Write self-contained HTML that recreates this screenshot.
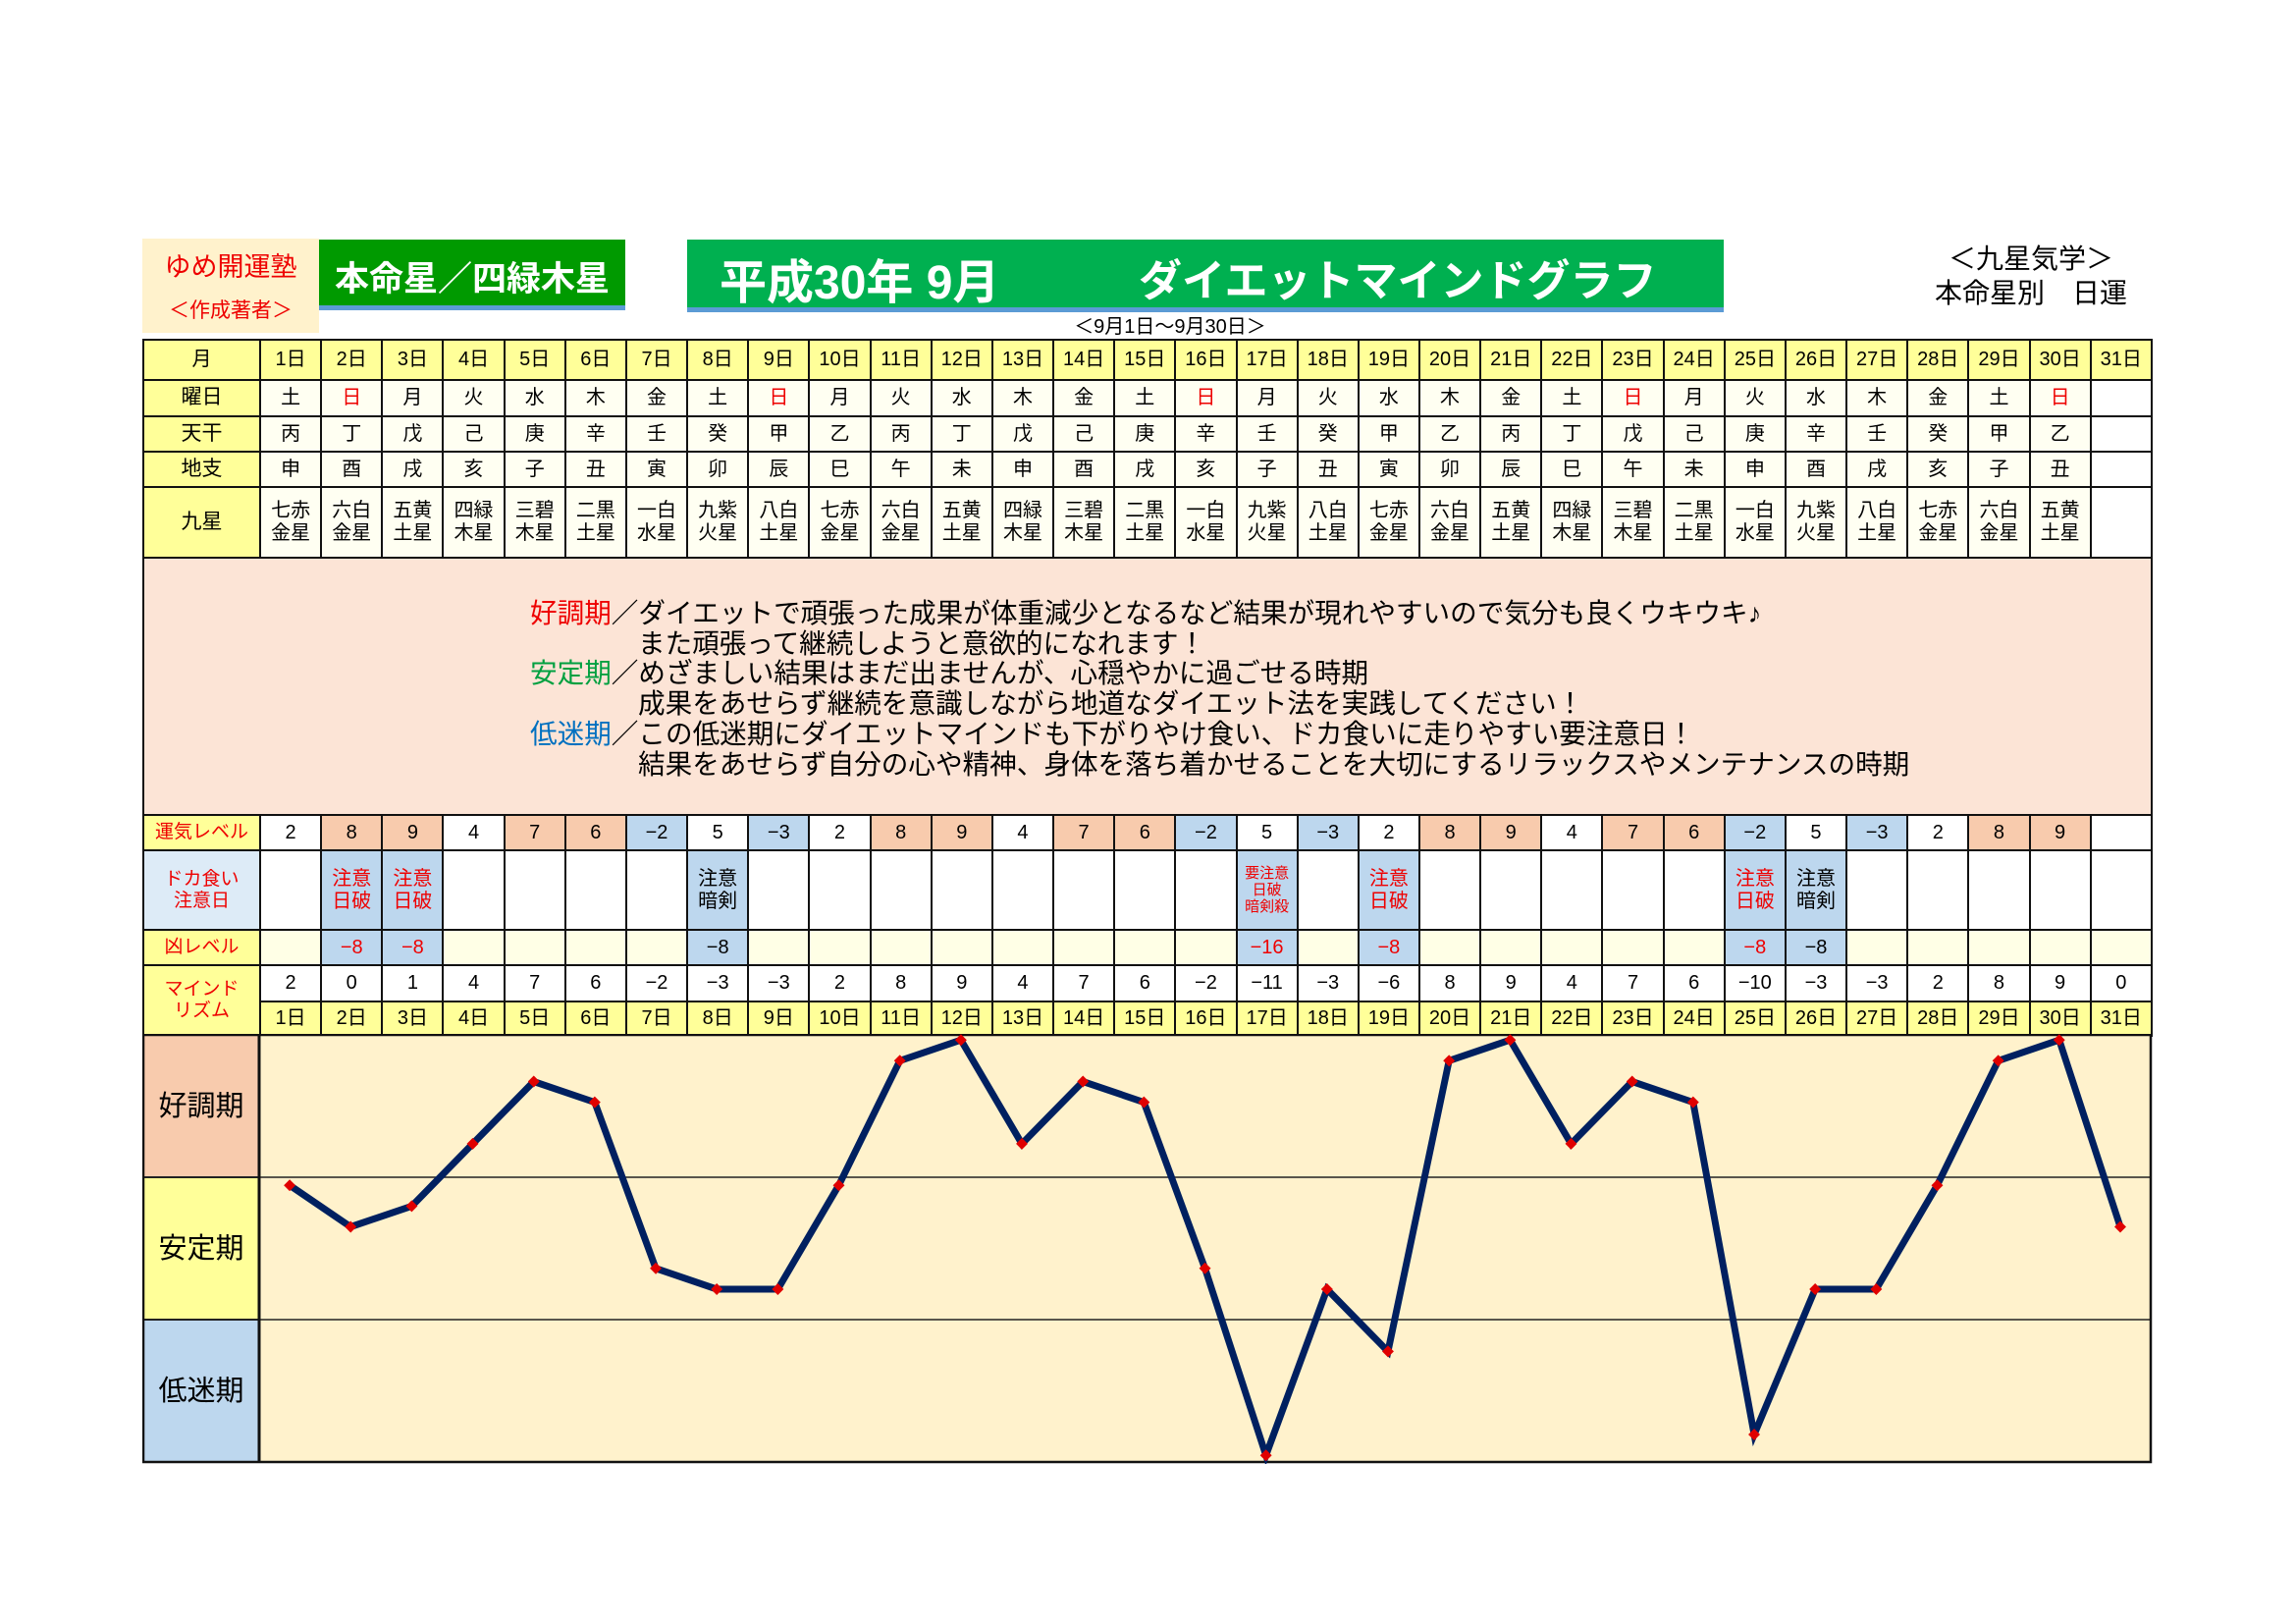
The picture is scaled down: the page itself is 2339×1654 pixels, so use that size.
<!DOCTYPE html>
<html><head><meta charset="utf-8"><style>
*{margin:0;padding:0;box-sizing:border-box}
body{width:2339px;height:1654px;background:#fff;position:relative;overflow:hidden;font-family:"Liberation Sans","Noto Sans CJK JP",sans-serif;color:#000}
.a{position:absolute;white-space:nowrap}
table{position:absolute;left:145px;top:345px;width:2046px;border-collapse:collapse;table-layout:fixed}
td{border:2px solid #111;text-align:center;vertical-align:middle;font-size:20px;line-height:1.15;background:#fffff2;overflow:hidden}
td.l{background:#ffff99;font-size:21px}
tr.h td{background:#ffff99;font-size:20px}
.r{color:#e00}
.b{background:#bdd7ee!important}
.s{background:#f8cbad!important}
.w td{background:#fff}
.k td{background:#ffffe6}
</style></head><body>
<div class="a" style="left:145px;top:243px;width:180px;height:96px;background:#fff2cc"></div>
<div class="a r" style="left:145px;top:250px;width:180px;text-align:center;font-size:27px">ゆめ開運塾</div>
<div class="a r" style="left:145px;top:300px;width:180px;text-align:center;font-size:21px">＜作成著者＞</div>
<div class="a" style="left:325px;top:244px;width:312px;height:72px;background:#009a00;border-bottom:5px solid #5b9bd5"></div>
<div class="a" style="left:325px;top:256px;width:312px;text-align:center;font-size:35px;font-weight:bold;color:#fff">本命星／四緑木星</div>
<div class="a" style="left:700px;top:244px;width:1056px;height:74px;background:#00b050;border-bottom:5px solid #5b9bd5"></div>
<div class="a" style="left:733px;top:248px;font-size:48px;font-weight:bold;color:#fff">平成30年 9月</div>
<div class="a" style="left:1160px;top:250px;font-size:44px;font-weight:bold;color:#fff">ダイエットマインドグラフ</div>
<div class="a" style="left:1942px;top:242px;width:254px;text-align:center;font-size:28px">＜九星気学＞</div>
<div class="a" style="left:1942px;top:277px;width:254px;text-align:center;font-size:28px">本命星別　日運</div>
<div class="a" style="left:1042px;top:316px;width:300px;text-align:center;font-size:20px">＜9月1日～9月30日＞</div>
<table>
<colgroup><col style="width:119px"><col span="31" style="width:62.16px"></colgroup>
<tr class="h" style="height:41px"><td>月</td><td>1日</td><td>2日</td><td>3日</td><td>4日</td><td>5日</td><td>6日</td><td>7日</td><td>8日</td><td>9日</td><td>10日</td><td>11日</td><td>12日</td><td>13日</td><td>14日</td><td>15日</td><td>16日</td><td>17日</td><td>18日</td><td>19日</td><td>20日</td><td>21日</td><td>22日</td><td>23日</td><td>24日</td><td>25日</td><td>26日</td><td>27日</td><td>28日</td><td>29日</td><td>30日</td><td>31日</td></tr>
<tr style="height:37px"><td class="l">曜日</td><td>土</td><td class="r">日</td><td>月</td><td>火</td><td>水</td><td>木</td><td>金</td><td>土</td><td class="r">日</td><td>月</td><td>火</td><td>水</td><td>木</td><td>金</td><td>土</td><td class="r">日</td><td>月</td><td>火</td><td>水</td><td>木</td><td>金</td><td>土</td><td class="r">日</td><td>月</td><td>火</td><td>水</td><td>木</td><td>金</td><td>土</td><td class="r">日</td><td style="background:#fff"></td></tr>
<tr style="height:36px"><td class="l">天干</td><td>丙</td><td>丁</td><td>戊</td><td>己</td><td>庚</td><td>辛</td><td>壬</td><td>癸</td><td>甲</td><td>乙</td><td>丙</td><td>丁</td><td>戊</td><td>己</td><td>庚</td><td>辛</td><td>壬</td><td>癸</td><td>甲</td><td>乙</td><td>丙</td><td>丁</td><td>戊</td><td>己</td><td>庚</td><td>辛</td><td>壬</td><td>癸</td><td>甲</td><td>乙</td><td style="background:#fff"></td></tr>
<tr style="height:36px"><td class="l">地支</td><td>申</td><td>酉</td><td>戌</td><td>亥</td><td>子</td><td>丑</td><td>寅</td><td>卯</td><td>辰</td><td>巳</td><td>午</td><td>未</td><td>申</td><td>酉</td><td>戌</td><td>亥</td><td>子</td><td>丑</td><td>寅</td><td>卯</td><td>辰</td><td>巳</td><td>午</td><td>未</td><td>申</td><td>酉</td><td>戌</td><td>亥</td><td>子</td><td>丑</td><td style="background:#fff"></td></tr>
<tr style="height:72px"><td class="l">九星</td><td>七赤<br>金星</td><td>六白<br>金星</td><td>五黄<br>土星</td><td>四緑<br>木星</td><td>三碧<br>木星</td><td>二黒<br>土星</td><td>一白<br>水星</td><td>九紫<br>火星</td><td>八白<br>土星</td><td>七赤<br>金星</td><td>六白<br>金星</td><td>五黄<br>土星</td><td>四緑<br>木星</td><td>三碧<br>木星</td><td>二黒<br>土星</td><td>一白<br>水星</td><td>九紫<br>火星</td><td>八白<br>土星</td><td>七赤<br>金星</td><td>六白<br>金星</td><td>五黄<br>土星</td><td>四緑<br>木星</td><td>三碧<br>木星</td><td>二黒<br>土星</td><td>一白<br>水星</td><td>九紫<br>火星</td><td>八白<br>土星</td><td>七赤<br>金星</td><td>六白<br>金星</td><td>五黄<br>土星</td><td style="background:#fff"></td></tr>
<tr style="height:262px"><td colspan="32" style="background:#fce4d6"></td></tr>
<tr class="w" style="height:36px"><td class="l r" style="background:#ffff99;font-size:19px">運気レベル</td><td>2</td><td class="s">8</td><td class="s">9</td><td>4</td><td class="s">7</td><td class="s">6</td><td class="b">−2</td><td>5</td><td class="b">−3</td><td>2</td><td class="s">8</td><td class="s">9</td><td>4</td><td class="s">7</td><td class="s">6</td><td class="b">−2</td><td>5</td><td class="b">−3</td><td>2</td><td class="s">8</td><td class="s">9</td><td>4</td><td class="s">7</td><td class="s">6</td><td class="b">−2</td><td>5</td><td class="b">−3</td><td>2</td><td class="s">8</td><td class="s">9</td><td></td></tr>
<tr class="w" style="height:81px"><td class="r" style="background:#ddebf7;font-size:19px">ドカ食い<br>注意日</td><td></td><td class="b r">注意<br>日破</td><td class="b r">注意<br>日破</td><td></td><td></td><td></td><td></td><td class="b">注意<br>暗剣</td><td></td><td></td><td></td><td></td><td></td><td></td><td></td><td></td><td class="b r" style="font-size:15px">要注意<br>日破<br>暗剣殺</td><td></td><td class="b r">注意<br>日破</td><td></td><td></td><td></td><td></td><td></td><td class="b r">注意<br>日破</td><td class="b">注意<br>暗剣</td><td></td><td></td><td></td><td></td><td></td></tr>
<tr class="k" style="height:36px"><td class="l r" style="background:#ffff99;font-size:19px">凶レベル</td><td></td><td class="b r">−8</td><td class="b r">−8</td><td></td><td></td><td></td><td></td><td class="b">−8</td><td></td><td></td><td></td><td></td><td></td><td></td><td></td><td></td><td class="b r">−16</td><td></td><td class="b r">−8</td><td></td><td></td><td></td><td></td><td></td><td class="b r">−8</td><td class="b">−8</td><td></td><td></td><td></td><td></td><td></td></tr>
<tr class="w" style="height:37px"><td class="l r" rowspan="2" style="background:#ffff99;font-size:19px">マインド<br>リズム</td><td>2</td><td>0</td><td>1</td><td>4</td><td>7</td><td>6</td><td>−2</td><td>−3</td><td>−3</td><td>2</td><td>8</td><td>9</td><td>4</td><td>7</td><td>6</td><td>−2</td><td>−11</td><td>−3</td><td>−6</td><td>8</td><td>9</td><td>4</td><td>7</td><td>6</td><td>−10</td><td>−3</td><td>−3</td><td>2</td><td>8</td><td>9</td><td>0</td></tr>
<tr class="h" style="height:35px"><td>1日</td><td>2日</td><td>3日</td><td>4日</td><td>5日</td><td>6日</td><td>7日</td><td>8日</td><td>9日</td><td>10日</td><td>11日</td><td>12日</td><td>13日</td><td>14日</td><td>15日</td><td>16日</td><td>17日</td><td>18日</td><td>19日</td><td>20日</td><td>21日</td><td>22日</td><td>23日</td><td>24日</td><td>25日</td><td>26日</td><td>27日</td><td>28日</td><td>29日</td><td>30日</td><td>31日</td></tr>
</table>
<div class="a" style="left:540px;top:610px;font-size:27.6px;line-height:30.7px">
<span style="color:#e00">好調期</span>／ダイエットで頑張った成果が体重減少となるなど結果が現れやすいので気分も良くウキウキ♪<br>
<span style="padding-left:110px">また頑張って継続しようと意欲的になれます！</span><br>
<span style="color:#00a040">安定期</span>／めざましい結果はまだ出ませんが、心穏やかに過ごせる時期<br>
<span style="padding-left:110px">成果をあせらず継続を意識しながら地道なダイエット法を実践してください！</span><br>
<span style="color:#0070c0">低迷期</span>／この低迷期にダイエットマインドも下がりやけ食い、ドカ食いに走りやすい要注意日！<br>
<span style="padding-left:110px">結果をあせらず自分の心や精神、身体を落ち着かせることを大切にするリラックスやメンテナンスの時期</span>
</div>
<svg class="a" style="left:145px;top:1053px" width="2048" height="438" viewBox="0 0 2048 438">
<defs><marker id="m" viewBox="-6 -6 12 12" markerWidth="12" markerHeight="12" markerUnits="userSpaceOnUse"><path d="M0 -6L6 0L0 6L-6 0Z" fill="#e00000"/></marker></defs>
<rect x="119" y="1" width="1927" height="435" fill="#fff2cc"/>
<rect x="1" y="1" width="118" height="145" fill="#f8cbad"/>
<rect x="1" y="146" width="118" height="145" fill="#ffff99"/>
<rect x="1" y="291" width="118" height="145" fill="#bdd7ee"/>
<line x1="119" y1="146" x2="2046" y2="146" stroke="#222" stroke-width="1.5"/>
<line x1="119" y1="291" x2="2046" y2="291" stroke="#222" stroke-width="1.5"/>
<line x1="0" y1="146" x2="119" y2="146" stroke="#222" stroke-width="2"/>
<line x1="0" y1="291" x2="119" y2="291" stroke="#222" stroke-width="2"/>
<rect x="1" y="1" width="2045" height="435" fill="none" stroke="#111" stroke-width="2.5"/>
<line x1="119" y1="0" x2="119" y2="437" stroke="#111" stroke-width="3"/>
<text x="60" y="83" font-size="29" text-anchor="middle" font-family="Liberation Sans,Noto Sans CJK JP,sans-serif">好調期</text>
<text x="60" y="228" font-size="29" text-anchor="middle" font-family="Liberation Sans,Noto Sans CJK JP,sans-serif">安定期</text>
<text x="60" y="373" font-size="29" text-anchor="middle" font-family="Liberation Sans,Noto Sans CJK JP,sans-serif">低迷期</text>
<g transform="translate(119,-4) scale(0.99376,1) translate(-119,0)">
<polyline fill="none" stroke="#002060" stroke-width="7" stroke-linejoin="miter" marker-start="url(#m)" marker-mid="url(#m)" marker-end="url(#m)" points="150.3,158.2 212.8,200.5 275.4,179.4 337.9,115.9 400.5,52.5 463,73.6 525.6,242.8 588.1,264 650.7,264 713.2,158.2 775.8,31.3 838.4,10.2 900.9,115.9 963.5,52.5 1026,73.6 1088.6,242.8 1151.1,433.2 1213.7,264 1276.2,327.4 1338.8,31.3 1401.4,10.2 1463.9,115.9 1526.5,52.5 1589,73.6 1651.6,412 1714.1,264 1776.7,264 1839.2,158.2 1901.8,31.3 1964.3,10.2 2026.9,200.5"/>
</g>
</svg>
</body></html>
